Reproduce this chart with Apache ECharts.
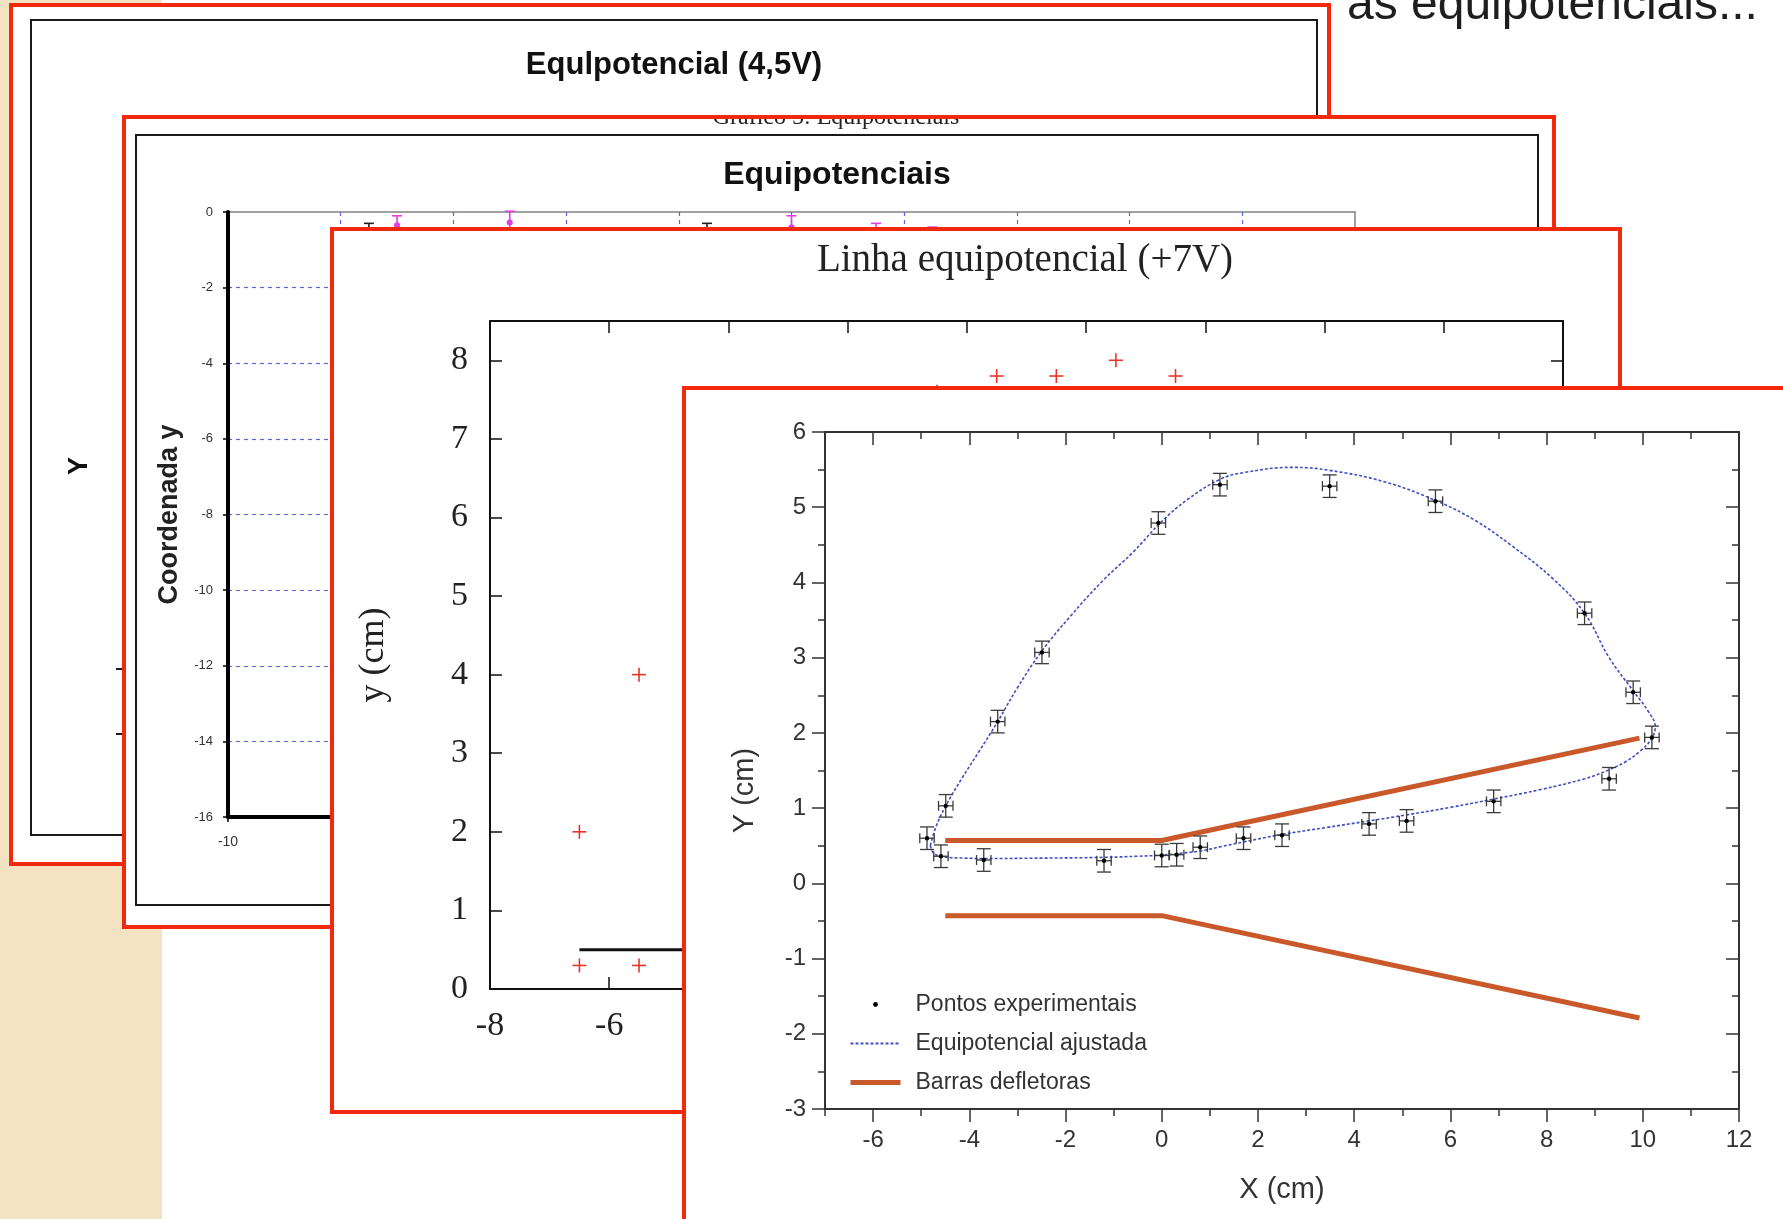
<!DOCTYPE html>
<html><head><meta charset="utf-8">
<script src="https://cdn.jsdelivr.net/npm/echarts@6/dist/echarts.min.js"></script>
<style>html,body{margin:0;padding:0;background:#fff}#c{width:1783px;height:1219px}</style>
</head><body><div id="c"></div>
<script>
// ================= DATA =================
// Front chart: experimental points (X (cm), Y (cm))
const PTS_X = [-4.88,-4.59,-4.49,-3.70,-3.41,-2.49,-1.20,-0.07,0.00,0.31,0.80,1.21,1.70,2.50,3.49,4.31,5.09,5.69,6.90,8.79,9.30,9.80,10.19];
const PTS_Y = [0.60,0.36,1.03,0.31,2.15,3.07,0.30,4.79,0.37,0.38,0.48,5.30,0.60,0.64,5.28,0.79,0.83,5.08,1.09,3.59,1.39,2.54,1.94];
const PTS_ERR_X = 0.15;
const PTS_ERR_Y = 0.15;
// Front chart: fitted equipotential
const FIT_X = [-4.81,-4.74,-4.52,-4.10,-3.70,-2.50,-1.23,-0.50,0.00,0.40,0.80,1.25,1.70,2.50,3.40,4.31,5.09,6.00,6.90,7.90,8.79,9.30,9.65,9.95,10.18,10.26,10.12,9.80,9.30,8.79,8.13,7.25,6.50,5.69,4.62,3.49,2.72,1.70,1.21,0.53,0.00,-0.60,-1.23,-1.90,-2.49,-3.00,-3.41,-3.80,-4.15,-4.49,-4.70,-4.81];
const FIT_Y = [0.50,0.40,0.35,0.335,0.33,0.335,0.345,0.36,0.375,0.40,0.43,0.49,0.55,0.65,0.74,0.83,0.91,1.01,1.12,1.25,1.39,1.51,1.62,1.76,1.92,2.08,2.28,2.56,3.00,3.59,4.05,4.50,4.83,5.09,5.34,5.49,5.53,5.46,5.37,5.10,4.81,4.40,4.02,3.55,3.09,2.60,2.15,1.75,1.40,1.03,0.74,0.50];
// Front chart: deflector bars
const BAR_TOP_X = [-4.5, 0.0, 9.93];
const BAR_TOP_Y = [0.57, 0.57, 1.93];
const BAR_BOT_X = [-4.5, 0.0, 9.93];
const BAR_BOT_Y = [-0.43, -0.43, -1.79];
const X_MAJOR = [-6,-4,-2,0,2,4,6,8,10,12];
const X_MINOR = [-7,-5,-3,-1,1,3,5,7,9,11];
// Layer 3: "Linha equipotencial (+7V)"
const L3_X = [-6.5,-5.5,-6.5,-5.5,-0.5,0.5,1.5,2.5,3.5];
const L3_Y = [2.0,4.0,0.3,0.3,7.6,7.8,7.8,8.0,7.8];
const L3_PLATE_X = [-6.5, 0.0];
const L3_PLATE_Y = [0.5, 0.5];
const L3_Y_TICKS = [0,1,2,3,4,5,6,7,8];
// Layer 2: "Equipotenciais"
const L2_BLACK_X = [-7.5, -1.5];
const L2_BLACK_Y = [-0.55, -0.55];
const L2_BLACK_ERR = [0.25, 0.25];
const L2_MAG_X = [-7.0, -5.0, 0.0, 1.5, 2.5, 3.5];
const L2_MAG_Y = [-0.35, -0.28, -0.40, -0.50, -0.55, -0.60];
const L2_MAG_ERR = [0.25, 0.30, 0.30, 0.20, 0.15, 0.15];
// Layer 1: "Equlpotencial (4,5V)"
const L1_Y_TICKS = [0, 1];

// ================= STYLE =================
const RED = '#f2290c';
const ORANGE = '#c9582b';
const BLUE = '#3f4fbf';
const SANS = '"Liberation Sans", Arial, sans-serif';
const SERIF = '"Liberation Serif", "Times New Roman", serif';

function ptsRender(params, api) {
  const x = api.value(0), y = api.value(1), ex = api.value(2), ey = api.value(3);
  const c = api.coord([x, y]);
  const xl = api.coord([x - ex, y])[0], xr = api.coord([x + ex, y])[0];
  const yt = api.coord([x, y + ey])[1], yb = api.coord([x, y - ey])[1];
  const st = {stroke: '#3a3a3a', lineWidth: 1.3};
  const cw = 7, ch = 5;
  return {type: 'group', children: [
    {type: 'line', shape: {x1: xl, y1: c[1], x2: xr, y2: c[1]}, style: st},
    {type: 'line', shape: {x1: xl, y1: c[1] - ch, x2: xl, y2: c[1] + ch}, style: st},
    {type: 'line', shape: {x1: xr, y1: c[1] - ch, x2: xr, y2: c[1] + ch}, style: st},
    {type: 'line', shape: {x1: c[0], y1: yt, x2: c[0], y2: yb}, style: st},
    {type: 'line', shape: {x1: c[0] - cw, y1: yt, x2: c[0] + cw, y2: yt}, style: st},
    {type: 'line', shape: {x1: c[0] - cw, y1: yb, x2: c[0] + cw, y2: yb}, style: st},
    {type: 'circle', shape: {cx: c[0], cy: c[1], r: 2.2}, style: {fill: '#000'}}
  ]};
}
function l2Render(color, dot) {
  return function (params, api) {
    const x = api.value(0), y = api.value(1), e = api.value(2);
    const c = api.coord([x, y]);
    const t = api.coord([x, y + e])[1], b = api.coord([x, y - e])[1];
    const st = {stroke: color, lineWidth: 1.6};
    const ch = [
      {type: 'line', shape: {x1: c[0], y1: t, x2: c[0], y2: b}, style: st},
      {type: 'line', shape: {x1: c[0] - 5, y1: t, x2: c[0] + 5, y2: t}, style: st},
      {type: 'line', shape: {x1: c[0] - 5, y1: b, x2: c[0] + 5, y2: b}, style: st}
    ];
    if (dot) ch.push({type: 'circle', shape: {cx: c[0], cy: c[1], r: 3}, style: {fill: color}});
    return {type: 'group', children: ch};
  };
}
function plusRender(params, api) {
  const c = api.coord([api.value(0), api.value(1)]);
  const s = 7;
  const st = {stroke: '#e8352b', lineWidth: 1.6};
  return {type: 'group', children: [
    {type: 'line', shape: {x1: c[0] - s, y1: c[1], x2: c[0] + s, y2: c[1]}, style: st},
    {type: 'line', shape: {x1: c[0], y1: c[1] - s, x2: c[0], y2: c[1] + s}, style: st}
  ]};
}

const tickStyle4 = {color: '#333', width: 1.5};
const l3tick = {color: '#111', width: 1.5};
const l2dash = {color: '#5568e0', type: [4, 4], width: 1.2};

const option = {
  animation: false,
  backgroundColor: '#ffffff',
  textStyle: {fontFamily: SANS},
  title: [
    {text: 'Equlpotencial (4,5V)', left: 674, top: 65, textAlign: 'center', textVerticalAlign: 'middle', padding: 0, z: 12,
     textStyle: {fontFamily: SANS, fontWeight: 'bold', fontSize: 31, color: '#111'}},
    {text: 'Equipotenciais', left: 837, top: 175, textAlign: 'center', textVerticalAlign: 'middle', padding: 0, z: 22,
     textStyle: {fontFamily: SANS, fontWeight: 'bold', fontSize: 32, color: '#111'}},
    {text: 'Linha equipotencial (+7V)', left: 1025, top: 261, textAlign: 'center', textVerticalAlign: 'middle', padding: 0, z: 32,
     textStyle: {fontFamily: SERIF, fontWeight: 'normal', fontSize: 39, color: '#222'}}
  ],
  grid: [
    {left: 125, top: 669, width: 300, height: 65, outerBoundsMode: 'none', z: 11},
    {left: 228, top: 212, width: 1127, height: 605, outerBoundsMode: 'none', show: true, backgroundColor: 'transparent', borderColor: '#a0a0a0', borderWidth: 2, z: 21},
    {left: 490, top: 321, width: 1073, height: 668, outerBoundsMode: 'none', z: 31},
    {left: 825, top: 432, width: 914, height: 677, outerBoundsMode: 'none', z: 41}
  ],
  xAxis: [
    {gridIndex: 0, type: 'value', min: 0, max: 1, show: false},
    {gridIndex: 1, type: 'value', min: -10, max: 10, interval: 2, position: 'bottom', z: 22,
     axisLine: {onZero: false, lineStyle: {color: '#000', width: 4}},
     axisTick: {length: 5, lineStyle: {color: '#000', width: 1.5}},
     axisLabel: {fontSize: 14, color: '#333', margin: 18, fontFamily: SANS},
     splitLine: {show: true, showMinLine: false, showMaxLine: false, lineStyle: l2dash}},
    {gridIndex: 2, type: 'value', min: -8, max: 10, interval: 2, position: 'bottom', z: 32,
     axisLine: {onZero: false, lineStyle: {color: '#111', width: 2}},
     axisTick: {inside: true, length: 12, lineStyle: l3tick},
     axisLabel: {fontFamily: SERIF, fontSize: 34, color: '#222', margin: 20},
     splitLine: {show: false}},
    {gridIndex: 2, type: 'value', min: -8, max: 10, interval: 2, position: 'top', z: 32,
     axisLine: {onZero: false, lineStyle: {color: '#111', width: 2}},
     axisTick: {inside: true, length: 12, lineStyle: l3tick},
     axisLabel: {show: false}, splitLine: {show: false}},
    {gridIndex: 3, type: 'value', min: -7, max: 12, position: 'bottom', z: 42,
     axisLine: {onZero: false, lineStyle: {color: '#333', width: 2}},
     axisTick: {length: 13, customValues: X_MAJOR, lineStyle: tickStyle4},
     axisLabel: {customValues: X_MAJOR, fontSize: 24, color: '#333', margin: 19, fontFamily: SANS},
     splitLine: {show: false},
     name: 'X (cm)', nameLocation: 'middle', nameGap: 66,
     nameTextStyle: {fontSize: 29, color: '#333', fontFamily: SANS}},
    {gridIndex: 3, type: 'value', min: -7, max: 12, position: 'bottom', z: 42,
     axisLine: {show: false, onZero: false},
     axisTick: {length: 7, customValues: X_MINOR, lineStyle: tickStyle4},
     axisLabel: {show: false}, splitLine: {show: false}},
    {gridIndex: 3, type: 'value', min: -7, max: 12, position: 'top', z: 42,
     axisLine: {onZero: false, lineStyle: {color: '#333', width: 2}},
     axisTick: {inside: true, length: 13, customValues: X_MAJOR, lineStyle: tickStyle4},
     axisLabel: {show: false}, splitLine: {show: false}},
    {gridIndex: 3, type: 'value', min: -7, max: 12, position: 'top', z: 42,
     axisLine: {show: false, onZero: false},
     axisTick: {inside: true, length: 7, customValues: X_MINOR, lineStyle: tickStyle4},
     axisLabel: {show: false}, splitLine: {show: false}}
  ],
  yAxis: [
    {gridIndex: 0, type: 'value', min: 0, max: 1, interval: 1, position: 'left', z: 12,
     axisLine: {show: false, onZero: false},
     axisTick: {length: 9, customValues: L1_Y_TICKS, lineStyle: {color: '#1a1a1a', width: 2}},
     axisLabel: {show: false}, splitLine: {show: false}},
    {gridIndex: 1, type: 'value', min: -16, max: 0, interval: 2, position: 'left', z: 22,
     axisLine: {onZero: false, lineStyle: {color: '#000', width: 4}},
     axisTick: {length: 5, lineStyle: {color: '#000', width: 1.5}},
     axisLabel: {fontSize: 13, color: '#333', margin: 15, fontFamily: SANS},
     splitLine: {show: true, showMinLine: false, showMaxLine: false, lineStyle: l2dash},
     name: 'Coordenada y', nameLocation: 'middle', nameGap: 42, nameRotate: 90,
     nameTextStyle: {fontSize: 27, fontWeight: 'bold', color: '#222', fontFamily: SANS}},
    {gridIndex: 2, type: 'value', min: 0, max: 8.5, position: 'left', z: 32,
     axisLine: {onZero: false, lineStyle: {color: '#111', width: 2}},
     axisTick: {inside: true, length: 12, customValues: L3_Y_TICKS, lineStyle: l3tick},
     axisLabel: {customValues: L3_Y_TICKS, fontFamily: SERIF, fontSize: 34, color: '#222', margin: 22},
     splitLine: {show: false},
     name: 'y (cm)', nameLocation: 'middle', nameGap: 98, nameRotate: 90,
     nameTextStyle: {fontFamily: SERIF, fontSize: 36, color: '#222'}},
    {gridIndex: 2, type: 'value', min: 0, max: 8.5, position: 'right', z: 32,
     axisLine: {onZero: false, lineStyle: {color: '#111', width: 2}},
     axisTick: {inside: true, length: 12, customValues: L3_Y_TICKS, lineStyle: l3tick},
     axisLabel: {show: false}, splitLine: {show: false}},
    {gridIndex: 3, type: 'value', min: -3, max: 6, interval: 1, position: 'left', z: 42,
     axisLine: {onZero: false, lineStyle: {color: '#333', width: 2}},
     axisTick: {length: 13, lineStyle: tickStyle4},
     minorTick: {show: true, splitNumber: 2, length: 7, lineStyle: tickStyle4},
     axisLabel: {fontSize: 24, color: '#333', margin: 19, fontFamily: SANS},
     splitLine: {show: false},
     name: 'Y (cm)', nameLocation: 'middle', nameGap: 66, nameRotate: 90,
     nameTextStyle: {fontSize: 29, color: '#333', fontFamily: SANS, padding: [0, 40, 0, 0]}},
    {gridIndex: 3, type: 'value', min: -3, max: 6, interval: 1, position: 'right', z: 42,
     axisLine: {onZero: false, lineStyle: {color: '#333', width: 2}},
     axisTick: {inside: true, length: 13, lineStyle: tickStyle4},
     minorTick: {show: true, splitNumber: 2, length: 7, lineStyle: tickStyle4},
     axisLabel: {show: false}, splitLine: {show: false}}
  ],
  legend: {
    data: [
      {name: 'Pontos experimentais', icon: 'path://M0,0M50,14M25,7m-2.4,0a2.4,2.4 0 1,0 4.8,0a2.4,2.4 0 1,0 -4.8,0'},
      {name: 'Equipotencial ajustada', itemStyle: {opacity: 0}, lineStyle: {width: 1.8, color: BLUE, type: [3, 2]}},
      {name: 'Barras defletoras', itemStyle: {opacity: 0}, lineStyle: {width: 5, color: ORANGE}}
    ],
    orient: 'vertical', left: 848, top: 993, itemWidth: 50, itemHeight: 14, itemGap: 16,
    padding: 0, selectedMode: false, z: 46,
    textStyle: {fontSize: 23, color: '#333', fontFamily: SANS, padding: [0, 0, 0, 10]}
  },
  series: [
    {type: 'custom', name: 'l2black', xAxisIndex: 1, yAxisIndex: 1, z: 23, renderItem: l2Render('#222', false),
     data: L2_BLACK_X.map((x, i) => [x, L2_BLACK_Y[i], L2_BLACK_ERR[i]])},
    {type: 'custom', name: 'l2mag', xAxisIndex: 1, yAxisIndex: 1, z: 23, renderItem: l2Render('#e23fe2', true),
     data: L2_MAG_X.map((x, i) => [x, L2_MAG_Y[i], L2_MAG_ERR[i]])},
    {type: 'line', name: 'l3plate', xAxisIndex: 2, yAxisIndex: 2, z: 33, symbol: 'none',
     lineStyle: {color: '#111', width: 3}, data: L3_PLATE_X.map((x, i) => [x, L3_PLATE_Y[i]])},
    {type: 'custom', name: 'l3plus', xAxisIndex: 2, yAxisIndex: 2, z: 33, renderItem: plusRender,
     data: L3_X.map((x, i) => [x, L3_Y[i]])},
    {type: 'line', name: 'Barras defletoras', xAxisIndex: 4, yAxisIndex: 4, z: 43, symbol: 'none',
     lineStyle: {color: ORANGE, width: 5}, itemStyle: {color: ORANGE},
     data: BAR_TOP_X.map((x, i) => [x, BAR_TOP_Y[i]])},
    {type: 'line', name: 'Barras defletoras', xAxisIndex: 4, yAxisIndex: 4, z: 43, symbol: 'none',
     lineStyle: {color: ORANGE, width: 5}, itemStyle: {color: ORANGE},
     data: BAR_BOT_X.map((x, i) => [x, BAR_BOT_Y[i]])},
    {type: 'line', name: 'Equipotencial ajustada', xAxisIndex: 4, yAxisIndex: 4, z: 44, symbol: 'none', smooth: 0.4,
     lineStyle: {color: BLUE, width: 1.6, type: [3, 2]}, itemStyle: {color: BLUE},
     data: FIT_X.map((x, i) => [x, FIT_Y[i]])},
    {type: 'custom', name: 'Pontos experimentais', xAxisIndex: 4, yAxisIndex: 4, z: 45, itemStyle: {color: '#000'},
     renderItem: ptsRender, data: PTS_X.map((x, i) => [x, PTS_Y[i], PTS_ERR_X, PTS_ERR_Y])}
  ],
  graphic: {elements: [
    {type: 'rect', silent: true, z: 0, shape: {x: 0, y: 0, width: 162, height: 1219}, style: {fill: '#f3e3c3'}},
    {type: 'text', silent: true, z: 1, x: 1347, y: 6,
     style: {text: 'as equipotenciais...', fontSize: 48, fontFamily: SANS, fill: '#1e1e1e', align: 'left', verticalAlign: 'middle'}},
    // layer 1
    {type: 'rect', silent: true, z: 10, shape: {x: 11, y: 5, width: 1318, height: 859}, style: {fill: '#fff'}},
    {type: 'rect', silent: true, z: 11, shape: {x: 31, y: 20, width: 1286, height: 815}, style: {fill: 'none', stroke: '#1a1a1a', lineWidth: 2}},
    {type: 'text', silent: true, z: 12, x: 80, y: 466, rotation: Math.PI / 2,
     style: {text: 'Y', fontSize: 27, fontWeight: 'bold', fontFamily: SANS, fill: '#111', align: 'center', verticalAlign: 'middle'}},
    {type: 'rect', silent: true, z: 18, shape: {x: 11, y: 5, width: 1318, height: 859}, style: {fill: 'none', stroke: RED, lineWidth: 4}},
    // layer 2
    {type: 'rect', silent: true, z: 20, shape: {x: 124, y: 117, width: 1430, height: 810}, style: {fill: '#fff'}},
    {type: 'rect', silent: true, z: 21, shape: {x: 136, y: 135, width: 1402, height: 770}, style: {fill: 'none', stroke: '#1a1a1a', lineWidth: 2}},
    {type: 'text', silent: true, z: 21, x: 836, y: 118,
     style: {text: 'Gráfico 5: Equipotenciais', fontSize: 24, fontFamily: SERIF, fill: '#222', align: 'center', verticalAlign: 'middle'}},
    {type: 'rect', silent: true, z: 21.5, shape: {x: 690, y: 88, width: 300, height: 27}, style: {fill: '#fff'}},
    {type: 'rect', silent: true, z: 28, shape: {x: 124, y: 117, width: 1430, height: 810}, style: {fill: 'none', stroke: RED, lineWidth: 4}},
    // layer 3
    {type: 'rect', silent: true, z: 30, shape: {x: 332, y: 229, width: 1288, height: 883}, style: {fill: '#fff'}},
    {type: 'rect', silent: true, z: 38, shape: {x: 332, y: 229, width: 1288, height: 883}, style: {fill: 'none', stroke: RED, lineWidth: 4}},
    // layer 4 (front)
    {type: 'rect', silent: true, z: 40, shape: {x: 684, y: 388, width: 1200, height: 900}, style: {fill: '#fff'}},
    {type: 'rect', silent: true, z: 48, shape: {x: 684, y: 388, width: 1200, height: 900}, style: {fill: 'none', stroke: RED, lineWidth: 4}}
  ]}
};

const chart = echarts.init(document.getElementById('c'));
chart.setOption(option);
</script>
</body></html>
